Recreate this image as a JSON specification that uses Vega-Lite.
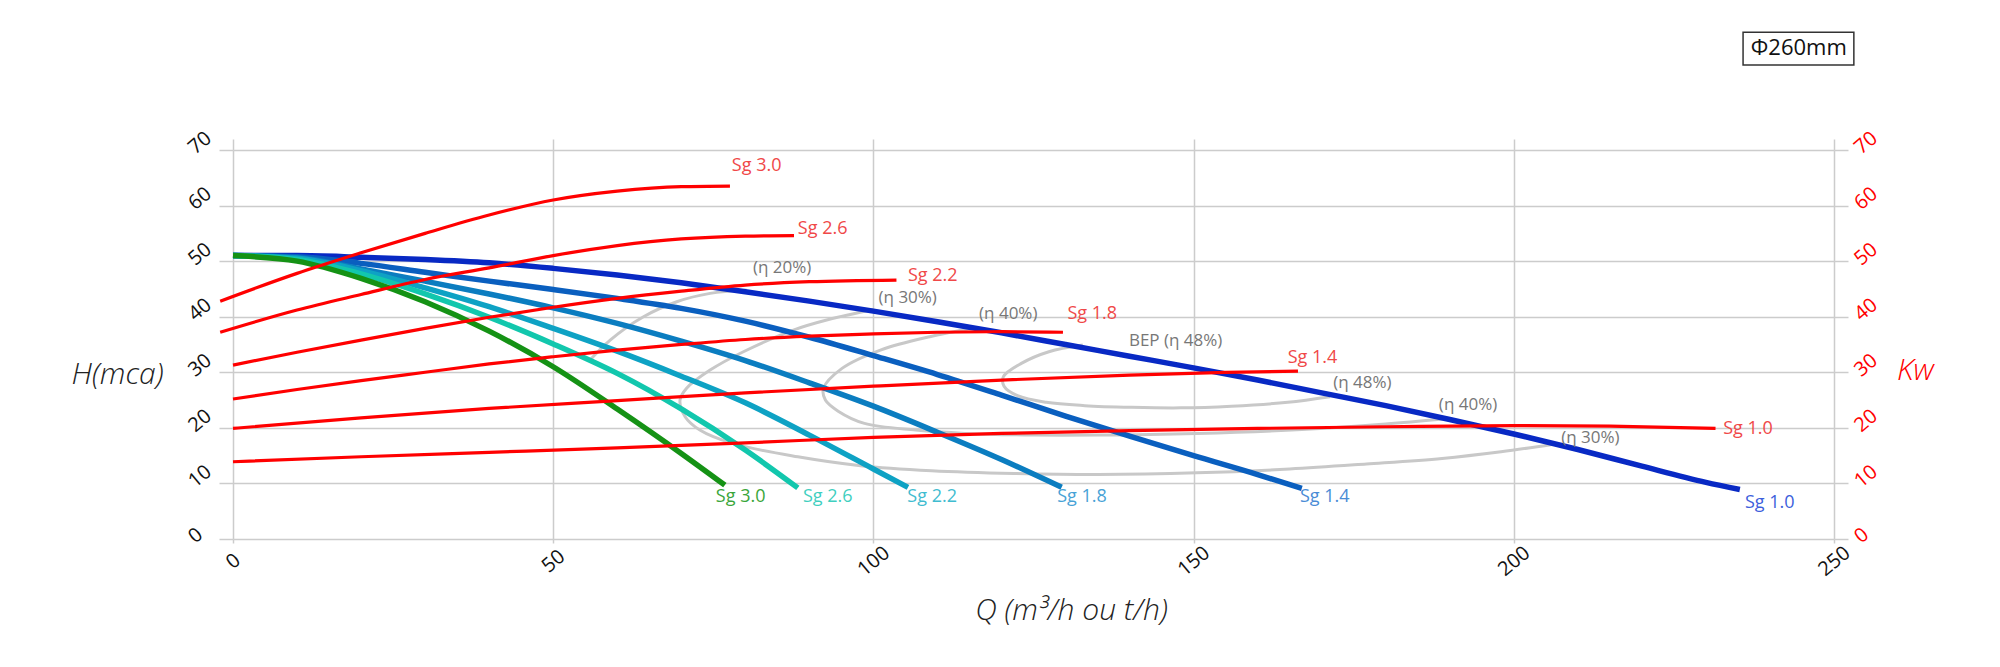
{
  "$schema": "https://vega.github.io/schema/vega-lite/v6.json",
  "autosize": {"type": "none"},
  "width": 1601,
  "height": 389,
  "padding": {"left": 233, "top": 150, "right": 166, "bottom": 128},
  "background": "white",
  "config": {"view": {"stroke": null}, "font": "Open Sans"},
  "datasets": {
    "eff": [
      {"series": "e20", "i": 0, "Q": 55.5, "H": 31.9},
      {"series": "e20", "i": 1, "Q": 58.9, "H": 35.8},
      {"series": "e20", "i": 2, "Q": 64.1, "H": 40.0},
      {"series": "e20", "i": 3, "Q": 69.3, "H": 42.7},
      {"series": "e20", "i": 4, "Q": 74.5, "H": 44.2},
      {"series": "e20", "i": 5, "Q": 80.2, "H": 44.8},
      {"series": "e30", "i": 0, "Q": 100.0, "H": 41.3},
      {"series": "e30", "i": 1, "Q": 93.0, "H": 39.5},
      {"series": "e30", "i": 2, "Q": 87.5, "H": 37.6},
      {"series": "e30", "i": 3, "Q": 79.7, "H": 33.7},
      {"series": "e30", "i": 4, "Q": 74.5, "H": 30.4},
      {"series": "e30", "i": 5, "Q": 70.8, "H": 27.1},
      {"series": "e30", "i": 6, "Q": 69.8, "H": 25.0},
      {"series": "e30", "i": 7, "Q": 70.6, "H": 22.0},
      {"series": "e30", "i": 8, "Q": 72.9, "H": 19.6},
      {"series": "e30", "i": 9, "Q": 78.0, "H": 17.2},
      {"series": "e30", "i": 10, "Q": 88.2, "H": 14.8},
      {"series": "e30", "i": 11, "Q": 98.0, "H": 13.2},
      {"series": "e30", "i": 12, "Q": 109.1, "H": 12.3},
      {"series": "e30", "i": 13, "Q": 122.0, "H": 11.8},
      {"series": "e30", "i": 14, "Q": 135.1, "H": 11.6},
      {"series": "e30", "i": 15, "Q": 150.5, "H": 11.9},
      {"series": "e30", "i": 16, "Q": 165.0, "H": 12.6},
      {"series": "e30", "i": 17, "Q": 177.0, "H": 13.5},
      {"series": "e30", "i": 18, "Q": 188.8, "H": 14.5},
      {"series": "e30", "i": 19, "Q": 198.0, "H": 15.7},
      {"series": "e30", "i": 20, "Q": 206.0, "H": 17.0},
      {"series": "e40", "i": 0, "Q": 116.0, "H": 38.0},
      {"series": "e40", "i": 1, "Q": 108.8, "H": 36.4},
      {"series": "e40", "i": 2, "Q": 101.1, "H": 34.0},
      {"series": "e40", "i": 3, "Q": 95.1, "H": 30.7},
      {"series": "e40", "i": 4, "Q": 92.2, "H": 27.1},
      {"series": "e40", "i": 5, "Q": 92.5, "H": 25.0},
      {"series": "e40", "i": 6, "Q": 94.5, "H": 23.0},
      {"series": "e40", "i": 7, "Q": 98.6, "H": 20.8},
      {"series": "e40", "i": 8, "Q": 106.6, "H": 19.6},
      {"series": "e40", "i": 9, "Q": 114.3, "H": 19.0},
      {"series": "e40", "i": 10, "Q": 125.0, "H": 18.7},
      {"series": "e40", "i": 11, "Q": 135.1, "H": 18.7},
      {"series": "e40", "i": 12, "Q": 150.5, "H": 19.0},
      {"series": "e40", "i": 13, "Q": 166.9, "H": 19.7},
      {"series": "e40", "i": 14, "Q": 180.0, "H": 20.7},
      {"series": "e40", "i": 15, "Q": 189.0, "H": 21.6},
      {"series": "e48", "i": 0, "Q": 132.7, "H": 34.9},
      {"series": "e48", "i": 1, "Q": 127.4, "H": 33.7},
      {"series": "e48", "i": 2, "Q": 123.1, "H": 31.6},
      {"series": "e48", "i": 3, "Q": 120.3, "H": 29.2},
      {"series": "e48", "i": 4, "Q": 120.4, "H": 27.5},
      {"series": "e48", "i": 5, "Q": 122.5, "H": 25.8},
      {"series": "e48", "i": 6, "Q": 127.0, "H": 24.6},
      {"series": "e48", "i": 7, "Q": 133.0, "H": 24.0},
      {"series": "e48", "i": 8, "Q": 140.3, "H": 23.7},
      {"series": "e48", "i": 9, "Q": 148.0, "H": 23.6},
      {"series": "e48", "i": 10, "Q": 155.9, "H": 23.9},
      {"series": "e48", "i": 11, "Q": 164.7, "H": 24.6},
      {"series": "e48", "i": 12, "Q": 171.3, "H": 25.6}
    ],
    "head": [
      {"series": "Sg 1.0", "Q": 0, "H": 51.0},
      {"series": "Sg 1.0", "Q": 10, "H": 51.0},
      {"series": "Sg 1.0", "Q": 20, "H": 50.7},
      {"series": "Sg 1.0", "Q": 30, "H": 50.3},
      {"series": "Sg 1.0", "Q": 40, "H": 49.7},
      {"series": "Sg 1.0", "Q": 50, "H": 48.7},
      {"series": "Sg 1.0", "Q": 60, "H": 47.5},
      {"series": "Sg 1.0", "Q": 70, "H": 46.1},
      {"series": "Sg 1.0", "Q": 80, "H": 44.5},
      {"series": "Sg 1.0", "Q": 90, "H": 42.8},
      {"series": "Sg 1.0", "Q": 100, "H": 41.0},
      {"series": "Sg 1.0", "Q": 110, "H": 39.1},
      {"series": "Sg 1.0", "Q": 120, "H": 37.1},
      {"series": "Sg 1.0", "Q": 130, "H": 35.0},
      {"series": "Sg 1.0", "Q": 140, "H": 32.9},
      {"series": "Sg 1.0", "Q": 150, "H": 30.8},
      {"series": "Sg 1.0", "Q": 160, "H": 28.6},
      {"series": "Sg 1.0", "Q": 170, "H": 26.3},
      {"series": "Sg 1.0", "Q": 180, "H": 24.0},
      {"series": "Sg 1.0", "Q": 190, "H": 21.5},
      {"series": "Sg 1.0", "Q": 200, "H": 18.9},
      {"series": "Sg 1.0", "Q": 210, "H": 16.1},
      {"series": "Sg 1.0", "Q": 220, "H": 13.1},
      {"series": "Sg 1.0", "Q": 230, "H": 10.2},
      {"series": "Sg 1.0", "Q": 235.3, "H": 8.9},
      {"series": "Sg 1.4", "Q": 0, "H": 51.0},
      {"series": "Sg 1.4", "Q": 10, "H": 50.8},
      {"series": "Sg 1.4", "Q": 20, "H": 49.6},
      {"series": "Sg 1.4", "Q": 30, "H": 48.0},
      {"series": "Sg 1.4", "Q": 40, "H": 46.4},
      {"series": "Sg 1.4", "Q": 50, "H": 44.9},
      {"series": "Sg 1.4", "Q": 60, "H": 43.3},
      {"series": "Sg 1.4", "Q": 70, "H": 41.5},
      {"series": "Sg 1.4", "Q": 80, "H": 39.2},
      {"series": "Sg 1.4", "Q": 90, "H": 36.3},
      {"series": "Sg 1.4", "Q": 100, "H": 33.0},
      {"series": "Sg 1.4", "Q": 110, "H": 29.6},
      {"series": "Sg 1.4", "Q": 120, "H": 25.9},
      {"series": "Sg 1.4", "Q": 130, "H": 22.1},
      {"series": "Sg 1.4", "Q": 140, "H": 18.5},
      {"series": "Sg 1.4", "Q": 150, "H": 15.0},
      {"series": "Sg 1.4", "Q": 160, "H": 11.6},
      {"series": "Sg 1.4", "Q": 166.9, "H": 9.1},
      {"series": "Sg 1.8", "Q": 0, "H": 51.0},
      {"series": "Sg 1.8", "Q": 10, "H": 50.6},
      {"series": "Sg 1.8", "Q": 20, "H": 48.6},
      {"series": "Sg 1.8", "Q": 30, "H": 46.4},
      {"series": "Sg 1.8", "Q": 40, "H": 44.1},
      {"series": "Sg 1.8", "Q": 50, "H": 41.6},
      {"series": "Sg 1.8", "Q": 60, "H": 38.8},
      {"series": "Sg 1.8", "Q": 70, "H": 35.6},
      {"series": "Sg 1.8", "Q": 80, "H": 32.1},
      {"series": "Sg 1.8", "Q": 90, "H": 28.1},
      {"series": "Sg 1.8", "Q": 100, "H": 23.9},
      {"series": "Sg 1.8", "Q": 110, "H": 19.2},
      {"series": "Sg 1.8", "Q": 120, "H": 14.3},
      {"series": "Sg 1.8", "Q": 129.4, "H": 9.3},
      {"series": "Sg 2.2", "Q": 0, "H": 51.0},
      {"series": "Sg 2.2", "Q": 10, "H": 50.5},
      {"series": "Sg 2.2", "Q": 20, "H": 48.3},
      {"series": "Sg 2.2", "Q": 30, "H": 45.2},
      {"series": "Sg 2.2", "Q": 40, "H": 41.8},
      {"series": "Sg 2.2", "Q": 50, "H": 37.9},
      {"series": "Sg 2.2", "Q": 60, "H": 33.8},
      {"series": "Sg 2.2", "Q": 70, "H": 29.3},
      {"series": "Sg 2.2", "Q": 80, "H": 24.5},
      {"series": "Sg 2.2", "Q": 90, "H": 18.7},
      {"series": "Sg 2.2", "Q": 100, "H": 12.6},
      {"series": "Sg 2.2", "Q": 105.4, "H": 9.3},
      {"series": "Sg 2.6", "Q": 0, "H": 51.0},
      {"series": "Sg 2.6", "Q": 10, "H": 50.3},
      {"series": "Sg 2.6", "Q": 20, "H": 47.7},
      {"series": "Sg 2.6", "Q": 30, "H": 44.1},
      {"series": "Sg 2.6", "Q": 40, "H": 39.9},
      {"series": "Sg 2.6", "Q": 50, "H": 35.1},
      {"series": "Sg 2.6", "Q": 60, "H": 29.8},
      {"series": "Sg 2.6", "Q": 70, "H": 23.4},
      {"series": "Sg 2.6", "Q": 80, "H": 16.0},
      {"series": "Sg 2.6", "Q": 88.2, "H": 9.2},
      {"series": "Sg 3.0", "Q": 0, "H": 51.0},
      {"series": "Sg 3.0", "Q": 10, "H": 50.0},
      {"series": "Sg 3.0", "Q": 20, "H": 46.9},
      {"series": "Sg 3.0", "Q": 30, "H": 42.7},
      {"series": "Sg 3.0", "Q": 40, "H": 37.4},
      {"series": "Sg 3.0", "Q": 50, "H": 31.0},
      {"series": "Sg 3.0", "Q": 60, "H": 23.4},
      {"series": "Sg 3.0", "Q": 70, "H": 15.4},
      {"series": "Sg 3.0", "Q": 76.8, "H": 9.7}
    ],
    "power": [
      {"series": "Sg 3.0", "Q": -2, "H": 42.8},
      {"series": "Sg 3.0", "Q": 10, "H": 47.8},
      {"series": "Sg 3.0", "Q": 20, "H": 51.5},
      {"series": "Sg 3.0", "Q": 30, "H": 55.0},
      {"series": "Sg 3.0", "Q": 40, "H": 58.3},
      {"series": "Sg 3.0", "Q": 50, "H": 61.0},
      {"series": "Sg 3.0", "Q": 60, "H": 62.6},
      {"series": "Sg 3.0", "Q": 70, "H": 63.4},
      {"series": "Sg 3.0", "Q": 77.6, "H": 63.5},
      {"series": "Sg 2.6", "Q": -2, "H": 37.2},
      {"series": "Sg 2.6", "Q": 10, "H": 41.2},
      {"series": "Sg 2.6", "Q": 20, "H": 44.0},
      {"series": "Sg 2.6", "Q": 30, "H": 46.7},
      {"series": "Sg 2.6", "Q": 40, "H": 48.8},
      {"series": "Sg 2.6", "Q": 50, "H": 51.0},
      {"series": "Sg 2.6", "Q": 60, "H": 52.8},
      {"series": "Sg 2.6", "Q": 70, "H": 54.0},
      {"series": "Sg 2.6", "Q": 80, "H": 54.5},
      {"series": "Sg 2.6", "Q": 87.6, "H": 54.6},
      {"series": "Sg 2.2", "Q": 0, "H": 31.3},
      {"series": "Sg 2.2", "Q": 10, "H": 33.6},
      {"series": "Sg 2.2", "Q": 20, "H": 35.8},
      {"series": "Sg 2.2", "Q": 30, "H": 37.9},
      {"series": "Sg 2.2", "Q": 40, "H": 39.9},
      {"series": "Sg 2.2", "Q": 50, "H": 41.7},
      {"series": "Sg 2.2", "Q": 60, "H": 43.3},
      {"series": "Sg 2.2", "Q": 70, "H": 44.6},
      {"series": "Sg 2.2", "Q": 80, "H": 45.7},
      {"series": "Sg 2.2", "Q": 90, "H": 46.3},
      {"series": "Sg 2.2", "Q": 103.6, "H": 46.6},
      {"series": "Sg 1.8", "Q": 0, "H": 25.2},
      {"series": "Sg 1.8", "Q": 10, "H": 26.9},
      {"series": "Sg 1.8", "Q": 20, "H": 28.5},
      {"series": "Sg 1.8", "Q": 30, "H": 30.0},
      {"series": "Sg 1.8", "Q": 40, "H": 31.5},
      {"series": "Sg 1.8", "Q": 50, "H": 32.8},
      {"series": "Sg 1.8", "Q": 60, "H": 34.0},
      {"series": "Sg 1.8", "Q": 70, "H": 35.0},
      {"series": "Sg 1.8", "Q": 80, "H": 35.9},
      {"series": "Sg 1.8", "Q": 90, "H": 36.5},
      {"series": "Sg 1.8", "Q": 100, "H": 36.9},
      {"series": "Sg 1.8", "Q": 110, "H": 37.2},
      {"series": "Sg 1.8", "Q": 120, "H": 37.3},
      {"series": "Sg 1.8", "Q": 129.6, "H": 37.2},
      {"series": "Sg 1.4", "Q": 0, "H": 19.9},
      {"series": "Sg 1.4", "Q": 20, "H": 21.8},
      {"series": "Sg 1.4", "Q": 40, "H": 23.5},
      {"series": "Sg 1.4", "Q": 60, "H": 24.9},
      {"series": "Sg 1.4", "Q": 80, "H": 26.3},
      {"series": "Sg 1.4", "Q": 100, "H": 27.5},
      {"series": "Sg 1.4", "Q": 120, "H": 28.6},
      {"series": "Sg 1.4", "Q": 140, "H": 29.5},
      {"series": "Sg 1.4", "Q": 155, "H": 30.0},
      {"series": "Sg 1.4", "Q": 166.3, "H": 30.2},
      {"series": "Sg 1.0", "Q": 0, "H": 13.9},
      {"series": "Sg 1.0", "Q": 20, "H": 14.8},
      {"series": "Sg 1.0", "Q": 40, "H": 15.6},
      {"series": "Sg 1.0", "Q": 60, "H": 16.4},
      {"series": "Sg 1.0", "Q": 80, "H": 17.3},
      {"series": "Sg 1.0", "Q": 100, "H": 18.3},
      {"series": "Sg 1.0", "Q": 120, "H": 19.0},
      {"series": "Sg 1.0", "Q": 140, "H": 19.5},
      {"series": "Sg 1.0", "Q": 160, "H": 19.9},
      {"series": "Sg 1.0", "Q": 180, "H": 20.2},
      {"series": "Sg 1.0", "Q": 200, "H": 20.4},
      {"series": "Sg 1.0", "Q": 215, "H": 20.3},
      {"series": "Sg 1.0", "Q": 231.5, "H": 19.9}
    ],
    "effLabels": [
      {"text": "(η 20%)", "Q": 81.2, "H": 48.7},
      {"text": "(η 30%)", "Q": 100.8, "H": 43.4},
      {"text": "(η 40%)", "Q": 116.5, "H": 40.5},
      {"text": "BEP (η 48%)", "Q": 139.9, "H": 35.6},
      {"text": "(η 48%)", "Q": 171.8, "H": 28.0},
      {"text": "(η 40%)", "Q": 188.3, "H": 24.1},
      {"text": "(η 30%)", "Q": 207.4, "H": 18.1}
    ],
    "powerLabels": [
      {"text": "Sg 3.0", "Q": 77.9, "H": 67.1},
      {"text": "Sg 2.6", "Q": 88.2, "H": 55.8},
      {"text": "Sg 2.2", "Q": 105.4, "H": 47.4},
      {"text": "Sg 1.8", "Q": 130.3, "H": 40.5},
      {"text": "Sg 1.4", "Q": 164.7, "H": 32.5},
      {"text": "Sg 1.0", "Q": 232.7, "H": 19.8}
    ],
    "headLabels": [
      {"series": "Sg 3.0", "Q": 75.4, "H": 7.6},
      {"series": "Sg 2.6", "Q": 89.0, "H": 7.6},
      {"series": "Sg 2.2", "Q": 105.3, "H": 7.6},
      {"series": "Sg 1.8", "Q": 128.7, "H": 7.6},
      {"series": "Sg 1.4", "Q": 166.6, "H": 7.6},
      {"series": "Sg 1.0", "Q": 236.1, "H": 6.4}
    ],
    "diameter": [
      {"text": "Φ260mm", "Q": 244.5, "H": 88.3, "Q1": 235.8, "Q2": 253.1, "H1": 91.2, "H2": 85.3}
    ]
  },
  "layer": [
    {
      "data": {"name": "eff"},
      "mark": {"type": "line", "color": "#c8c8c8", "strokeWidth": 3, "interpolate": "catmull-rom"},
      "encoding": {
        "x": {
          "field": "Q", "type": "quantitative",
          "scale": {"domain": [0, 250], "nice": false, "zero": false},
          "axis": {
            "orient": "bottom", "values": [0, 50, 100, 150, 200, 250],
            "grid": true, "gridColor": "#cccccc", "gridWidth": 1.5,
            "domain": false, "ticks": true, "tickSize": 4, "tickColor": "#cccccc", "tickWidth": 1.5,
            "labelAngle": -40, "labelAlign": "center", "labelBaseline": "middle", "labelPadding": 18,
            "labelFont": "Open Sans", "labelFontSize": 20, "labelColor": "#111111",
            "labelFlush": false, "labelOverlap": false,
            "title": "Q (m³/h ou t/h)", "titleFont": "Open Sans", "titleFontSize": 30,
            "titleFontStyle": "italic", "titleFontWeight": 300, "titleColor": "#222222",
            "titleX": 838, "titleY": 71, "titleAlign": "center", "titleBaseline": "middle"
          }
        },
        "y": {
          "field": "H", "type": "quantitative",
          "scale": {"domain": [0, 70], "nice": false, "zero": false},
          "axis": {
            "orient": "left", "values": [0, 10, 20, 30, 40, 50, 60, 70],
            "grid": true, "gridColor": "#cccccc", "gridWidth": 1.5,
            "domain": false, "ticks": true, "tickSize": 14, "tickColor": "#cccccc", "tickWidth": 1.5,
            "labelAngle": -40, "labelAlign": "left", "labelBaseline": "middle", "labelPadding": 28,
            "labelFont": "Open Sans", "labelFontSize": 20, "labelColor": "#111111",
            "labelFlush": false, "labelOverlap": false,
            "title": "H(mca)", "titleFont": "Open Sans", "titleFontSize": 30,
            "titleFontStyle": "italic", "titleFontWeight": 300, "titleColor": "#222222",
            "titleAngle": 0, "titleX": -116, "titleY": 224, "titleAlign": "center", "titleBaseline": "middle"
          }
        },
        "detail": {"field": "series", "type": "nominal"},
        "order": {"field": "i", "type": "quantitative"}
      }
    },
    {
      "data": {"name": "head"},
      "mark": {"type": "line", "strokeWidth": 5.5, "interpolate": "monotone"},
      "encoding": {
        "x": {
          "field": "Q", "type": "quantitative",
          "scale": {"domain": [0, 250], "nice": false, "zero": false},
          "axis": {
            "orient": "top", "values": [0, 50, 100, 150, 200, 250],
            "grid": false, "domain": false, "labels": false, "ticks": true,
            "tickSize": 11, "tickColor": "#cccccc", "tickWidth": 1.5, "title": null
          }
        },
        "y": {
          "field": "H", "type": "quantitative",
          "scale": {"domain": [0, 70], "nice": false, "zero": false},
          "axis": null
        },
        "color": {
          "field": "series", "type": "nominal", "legend": null,
          "scale": {
            "domain": ["Sg 1.0", "Sg 1.4", "Sg 1.8", "Sg 2.2", "Sg 2.6", "Sg 3.0"],
            "range": ["#0829c4", "#0a5fbf", "#0b7dc0", "#0ea2c4", "#12c7ad", "#159215"]
          }
        }
      }
    },
    {
      "data": {"name": "power"},
      "mark": {"type": "line", "color": "#ff0000", "strokeWidth": 3.2, "interpolate": "monotone"},
      "encoding": {
        "x": {
          "field": "Q", "type": "quantitative",
          "scale": {"domain": [0, 250], "nice": false, "zero": false},
          "axis": null
        },
        "y": {
          "field": "H", "type": "quantitative",
          "scale": {"domain": [0, 70], "nice": false, "zero": false},
          "axis": {
            "orient": "right", "values": [0, 10, 20, 30, 40, 50, 60, 70],
            "grid": false, "domain": false, "ticks": true,
            "tickSize": 14, "tickColor": "#cccccc", "tickWidth": 1.5,
            "labelAngle": -40, "labelAlign": "left", "labelBaseline": "middle", "labelPadding": 9,
            "labelFont": "Open Sans", "labelFontSize": 20, "labelColor": "#ff0000",
            "labelFlush": false, "labelOverlap": false,
            "title": "Kw", "titleFont": "Open Sans", "titleFontSize": 30,
            "titleFontStyle": "italic", "titleFontWeight": 300, "titleColor": "#ff0000",
            "titleAngle": 0, "titleX": 81, "titleY": 220, "titleAlign": "center", "titleBaseline": "middle"
          }
        },
        "detail": {"field": "series", "type": "nominal"}
      }
    },
    {
      "data": {"name": "effLabels"},
      "mark": {"type": "text", "align": "left", "baseline": "middle", "font": "Open Sans", "fontSize": 17, "color": "#777777"},
      "encoding": {
        "x": {"field": "Q", "type": "quantitative", "scale": {"domain": [0, 250], "nice": false, "zero": false}, "axis": null},
        "y": {"field": "H", "type": "quantitative", "scale": {"domain": [0, 70], "nice": false, "zero": false}, "axis": null},
        "text": {"field": "text", "type": "nominal"}
      }
    },
    {
      "data": {"name": "powerLabels"},
      "mark": {"type": "text", "align": "left", "baseline": "middle", "font": "Open Sans", "fontSize": 18, "color": "#f04848"},
      "encoding": {
        "x": {"field": "Q", "type": "quantitative", "scale": {"domain": [0, 250], "nice": false, "zero": false}, "axis": null},
        "y": {"field": "H", "type": "quantitative", "scale": {"domain": [0, 70], "nice": false, "zero": false}, "axis": null},
        "text": {"field": "text", "type": "nominal"}
      }
    },
    {
      "data": {"name": "headLabels"},
      "mark": {"type": "text", "align": "left", "baseline": "middle", "font": "Open Sans", "fontSize": 18},
      "encoding": {
        "x": {"field": "Q", "type": "quantitative", "scale": {"domain": [0, 250], "nice": false, "zero": false}, "axis": null},
        "y": {"field": "H", "type": "quantitative", "scale": {"domain": [0, 70], "nice": false, "zero": false}, "axis": null},
        "text": {"field": "series", "type": "nominal"},
        "color": {
          "field": "series", "type": "nominal", "legend": null,
          "scale": {
            "domain": ["Sg 1.0", "Sg 1.4", "Sg 1.8", "Sg 2.2", "Sg 2.6", "Sg 3.0"],
            "range": ["#3d5fdc", "#4a8cd6", "#47a2d6", "#3fbcd0", "#3fcfbf", "#3aa63a"]
          }
        }
      }
    },
    {
      "data": {"name": "diameter"},
      "mark": {"type": "rect", "fill": "white", "stroke": "#333333", "strokeWidth": 1.5},
      "encoding": {
        "x": {"field": "Q1", "type": "quantitative", "scale": {"domain": [0, 250], "nice": false, "zero": false}, "axis": null},
        "x2": {"field": "Q2"},
        "y": {"field": "H1", "type": "quantitative", "scale": {"domain": [0, 70], "nice": false, "zero": false}, "axis": null},
        "y2": {"field": "H2"}
      }
    },
    {
      "data": {"name": "diameter"},
      "mark": {"type": "text", "align": "center", "baseline": "middle", "font": "Open Sans", "fontSize": 22, "color": "#111111"},
      "encoding": {
        "x": {"field": "Q", "type": "quantitative", "scale": {"domain": [0, 250], "nice": false, "zero": false}, "axis": null},
        "y": {"field": "H", "type": "quantitative", "scale": {"domain": [0, 70], "nice": false, "zero": false}, "axis": null},
        "text": {"field": "text", "type": "nominal"}
      }
    }
  ],
  "resolve": {
    "scale": {"color": "independent"},
    "axis": {"x": "independent", "y": "independent"}
  }
}
